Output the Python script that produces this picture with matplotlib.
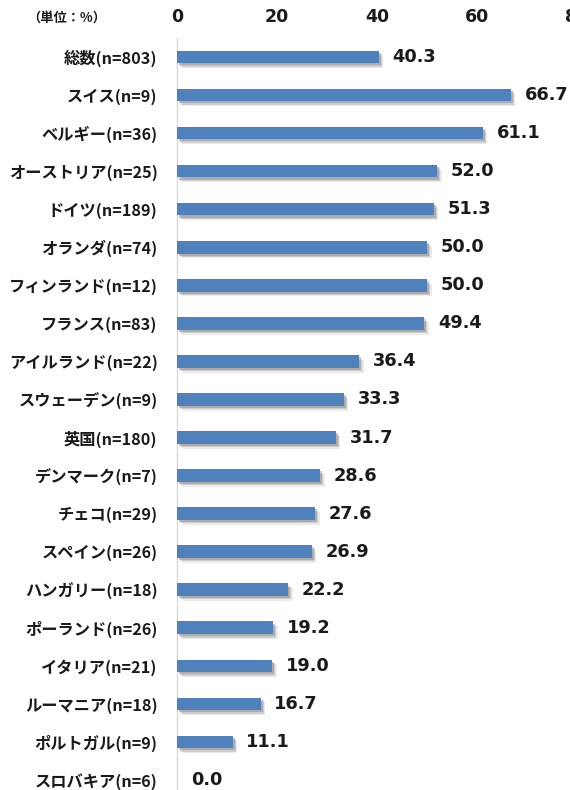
import matplotlib
matplotlib.use("Agg")
import matplotlib.pyplot as plt
import matplotlib.patheffects as pe

plt.rcParams['font.family'] = ['Noto Sans CJK JP', 'DejaVu Sans']

categories = ["総数(n=803)", "スイス(n=9)", "ベルギー(n=36)", "オーストリア(n=25)", "ドイツ(n=189)",
              "オランダ(n=74)", "フィンランド(n=12)", "フランス(n=83)", "アイルランド(n=22)",
              "スウェーデン(n=9)", "英国(n=180)", "デンマーク(n=7)", "チェコ(n=29)", "スペイン(n=26)",
              "ハンガリー(n=18)", "ポーランド(n=26)", "イタリア(n=21)", "ルーマニア(n=18)",
              "ポルトガル(n=9)", "スロバキア(n=6)"]
values = [40.3, 66.7, 61.1, 52.0, 51.3, 50.0, 50.0, 49.4, 36.4, 33.3, 31.7, 28.6, 27.6, 26.9,
          22.2, 19.2, 19.0, 16.7, 11.1, 0.0]
xticks = [0, 20, 40, 60, 80]
unit_label = "（単位：%）"

W, H = 570, 790
fig = plt.figure(figsize=(W/100, H/100), dpi=100)
left_px, right_px = 177, 577
top_px, bot_px = 38, 790
ax = fig.add_axes([left_px/W, 1 - bot_px/H, (right_px-left_px)/W, (bot_px-top_px)/H])

ypos = list(range(len(categories)))
bars = ax.barh(ypos, values, height=0.33, color="#4F81BD", zorder=3)
for b in bars:
    b.set_path_effects([
        pe.SimplePatchShadow(offset=(3.5, -3.5), shadow_rgbFace="#a0a0a0", alpha=0.22),
        pe.SimplePatchShadow(offset=(2.5, -2.5), shadow_rgbFace="#909090", alpha=0.32),
        pe.SimplePatchShadow(offset=(1.5, -1.5), shadow_rgbFace="#808080", alpha=0.42),
        pe.Normal()])

ax.set_xlim(0, 80)
ax.set_ylim((790-57)/38.05, -0.5)
ax.set_yticks(ypos)
ax.set_yticklabels(categories, fontsize=11.7, fontweight="bold", color="#1a1a1a")
ax.set_xticks(xticks)
ax.set_xticklabels([str(t) for t in xticks], fontsize=12.5, fontweight="bold", color="#1a1a1a",
                   family=["DejaVu Sans"])
ax.xaxis.tick_top()
ax.tick_params(axis="x", length=0, pad=9)
ax.tick_params(axis="y", length=0, pad=14)
for s in ["top", "right", "bottom"]:
    ax.spines[s].set_visible(False)
ax.spines["left"].set_color("#d9d9d9")
ax.spines["left"].set_linewidth(1.0)

for y, v in zip(ypos, values):
    ax.annotate(f"{v:.1f}", xy=(v, y), xytext=(10, 0), textcoords="offset points",
                va="center", ha="left", fontsize=12.8, fontweight="bold", color="#1a1a1a",
                family=["DejaVu Sans"])

fig.text(27/W, 1 - 18/H, unit_label, fontsize=9.5, fontweight="bold", color="#1a1a1a",
         va="center", ha="left")

fig.savefig("out.png", dpi=100)
